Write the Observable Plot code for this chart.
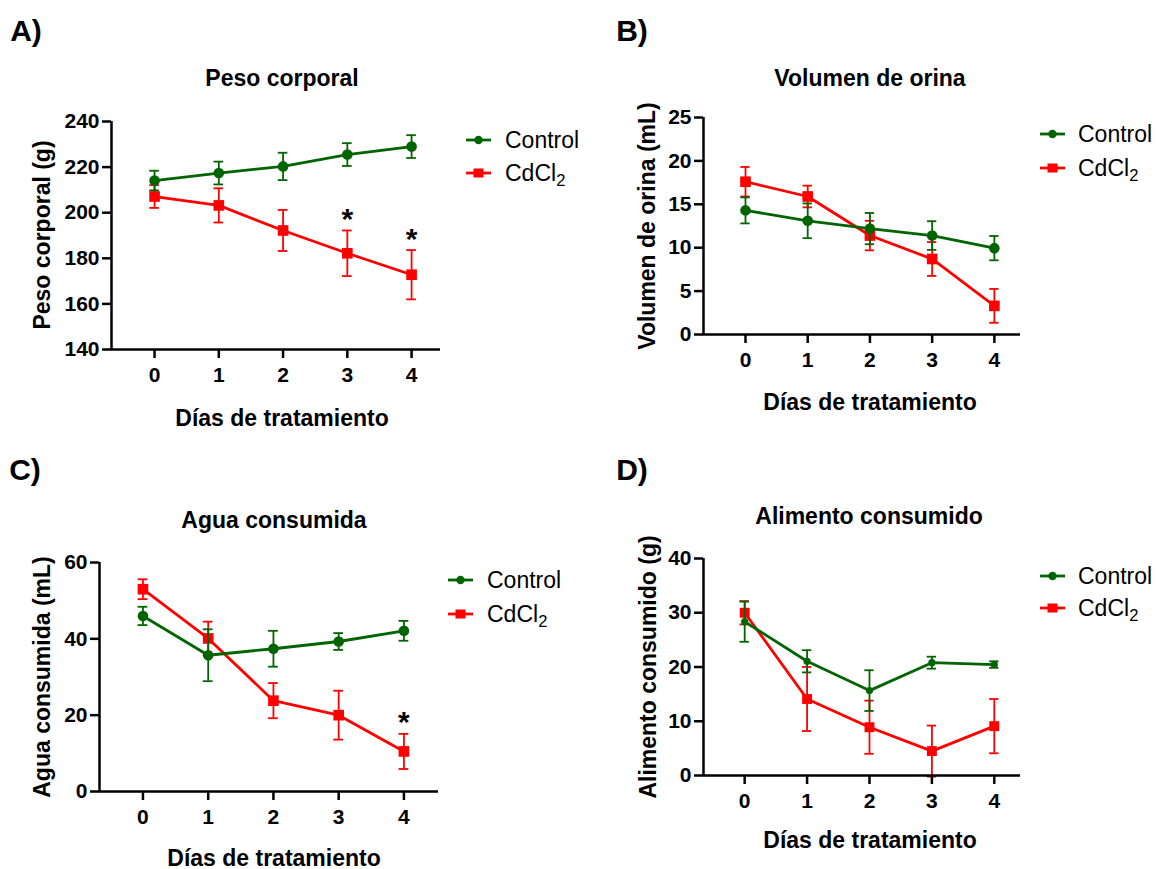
<!DOCTYPE html>
<html><head><meta charset="utf-8">
<script src="https://cdn.jsdelivr.net/npm/d3@7"></script>
<script src="https://cdn.jsdelivr.net/npm/@observablehq/plot@0.6"></script>
<style>
body{margin:0;background:#fff;}
#root{position:relative;width:1157px;height:869px;font-family:"Liberation Sans",Arial,sans-serif;color:#000;overflow:hidden;background:#fff}
.abs{position:absolute;white-space:nowrap;line-height:1}
.c{transform:translate(-50%,-50%)}
.b{font-weight:bold}
</style></head><body><div id="root"></div>
<script>
// ---- data ----
const days = [0, 1, 2, 3, 4];
const seriesNames = ["Control", "CdCl2"];

const pesoTicks = [140, 160, 180, 200, 220, 240];
const pesoControl = [214.1, 217.4, 220.3, 225.5, 229.0];
const pesoControlErr = [4.3, 5.0, 6.0, 5.0, 5.0];
const pesoCd = [207.1, 203.2, 192.2, 182.2, 172.8];
const pesoCdErr = [5.0, 7.5, 9.0, 10.0, 10.8];
const pesoSig = [3, 4];

const orinaTicks = [0, 5, 10, 15, 20, 25];
const orinaControl = [14.3, 13.1, 12.2, 11.4, 9.95];
const orinaControlErr = [1.5, 2.0, 1.8, 1.65, 1.4];
const orinaCd = [17.6, 15.9, 11.4, 8.7, 3.3];
const orinaCdErr = [1.7, 1.25, 1.7, 1.95, 1.95];
const orinaSig = [];

const aguaTicks = [0, 20, 40, 60];
const aguaControl = [46.0, 35.7, 37.4, 39.3, 42.1];
const aguaControlErr = [2.4, 6.8, 4.7, 2.2, 2.6];
const aguaCd = [53.0, 40.1, 23.8, 20.0, 10.5];
const aguaCdErr = [2.6, 4.4, 4.6, 6.4, 4.6];
const aguaSig = [4];

const alimentoTicks = [0, 10, 20, 30, 40];
const alimentoControl = [28.35, 21.05, 15.65, 20.8, 20.45];
const alimentoControlErr = [3.7, 2.05, 3.75, 1.1, 0.6];
const alimentoCd = [30.0, 14.1, 8.9, 4.5, 9.1];
const alimentoCdErr = [2.15, 5.9, 4.9, 4.7, 5.0];
const alimentoSig = [];

const GREEN = "#006400", RED = "#ff0000";
const FONT = "'Liberation Sans', Arial, sans-serif";

const panels = [
  {letter: "A)", title: "Peso corporal", ylabel: "Peso corporal (g)", xlabel: "Días de tratamiento",
   control: pesoControl, controlErr: pesoControlErr, cd: pesoCd, cdErr: pesoCdErr, sig: pesoSig, ticks: pesoTicks,
   L: {left: 111, right: 440, top: 121, bottom: 349, xDomain: [-0.67, 4.45], letterX: 26, letterY: 31,
       titleX: 282, titleY: 78, xlabX: 282, xlabY: 418, ylabX: 42, legSymX: 466, legTextX: 505, legY: 140, legDy: 33,
       circleR: 5.3, squareR: 6}},
  {letter: "B)", title: "Volumen de orina", ylabel: "Volumen de orina (mL)", xlabel: "Días de tratamiento",
   control: orinaControl, controlErr: orinaControlErr, cd: orinaCd, cdErr: orinaCdErr, sig: orinaSig, ticks: orinaTicks,
   L: {left: 703, right: 1020, top: 117, bottom: 334, xDomain: [-0.675, 4.42], letterX: 632, letterY: 31,
       titleX: 870, titleY: 78, xlabX: 870, xlabY: 402, ylabX: 647, legSymX: 1040, legTextX: 1078, legY: 134, legDy: 34,
       circleR: 5.3, squareR: 6}},
  {letter: "C)", title: "Agua consumida", ylabel: "Agua consumida (mL)", xlabel: "Días de tratamiento",
   control: aguaControl, controlErr: aguaControlErr, cd: aguaCd, cdErr: aguaCdErr, sig: aguaSig, ticks: aguaTicks,
   L: {left: 99, right: 438, top: 562, bottom: 791, xDomain: [-0.666, 4.53], letterX: 25, letterY: 470,
       titleX: 274, titleY: 520, xlabX: 274, xlabY: 858, ylabX: 42, legSymX: 448, legTextX: 487, legY: 580, legDy: 34,
       circleR: 5.3, squareR: 6}},
  {letter: "D)", title: "Alimento consumido", ylabel: "Alimento consumido (g)", xlabel: "Días de tratamiento",
   control: alimentoControl, controlErr: alimentoControlErr, cd: alimentoCd, cdErr: alimentoCdErr, sig: alimentoSig, ticks: alimentoTicks,
   L: {left: 703, right: 1020, top: 558, bottom: 775, xDomain: [-0.66, 4.42], letterX: 632, letterY: 470,
       titleX: 869, titleY: 516, xlabX: 870, xlabY: 840, ylabX: 648, legSymX: 1040, legTextX: 1078, legY: 576, legDy: 32,
       circleR: 3.6, squareR: 5.6}}
];

const root = document.getElementById("root");

function addText(html, x, y, cls, size, extra = "") {
  const d = document.createElement("div");
  d.className = "abs " + cls;
  d.style.left = x + "px";
  d.style.top = y + "px";
  d.style.fontSize = size + "px";
  d.style.cssText += extra;
  d.innerHTML = html;
  root.appendChild(d);
  return d;
}

function rows(means, errs, name) {
  return days.map((d, i) => ({day: d, mean: means[i], err: errs[i], series: name}));
}

function seriesMarks(r, color, symbol, radius) {
  const cap = 0.075;
  return [
    Plot.ruleX(r, {x: "day", y1: d => d.mean - d.err, y2: d => d.mean + d.err, stroke: color, strokeWidth: 1.8}),
    Plot.ruleY(r, {y: d => d.mean + d.err, x1: d => d.day - cap, x2: d => d.day + cap, stroke: color, strokeWidth: 1.8}),
    Plot.ruleY(r, {y: d => d.mean - d.err, x1: d => d.day - cap, x2: d => d.day + cap, stroke: color, strokeWidth: 1.8}),
    Plot.line(r, {x: "day", y: "mean", stroke: color, strokeWidth: 2.8}),
    Plot.dot(r, {x: "day", y: "mean", symbol, r: radius, fill: color, stroke: "none"})
  ];
}

for (const p of panels) {
  const L = p.L;
  const mL = 60, mT = 20, mR = 10, mB = 50;
  const width = (L.right - L.left) + mL + mR;
  const height = (L.bottom - L.top) + mT + mB;
  const yDomain = [d3.min(p.ticks), d3.max(p.ticks)];
  const ctrl = rows(p.control, p.controlErr, seriesNames[0]);
  const cd = rows(p.cd, p.cdErr, seriesNames[1]);
  const sigRows = cd.filter(d => p.sig.includes(d.day));

  const svg = Plot.plot({
    width, height, marginLeft: mL, marginTop: mT, marginRight: mR, marginBottom: mB,
    x: {domain: L.xDomain, label: null},
    y: {domain: yDomain, label: null},
    style: {fontFamily: FONT, fontSize: "21px", fontWeight: "bold", color: "#000", background: "transparent", overflow: "visible"},
    marks: [
      ...seriesMarks(cd, RED, "square", L.squareR),
      ...seriesMarks(ctrl, GREEN, "circle", L.circleR),
      Plot.text(sigRows, {x: "day", y: d => d.mean + d.err, text: () => "*", dy: -11, fontSize: 30, fontWeight: "bold", fill: "#000"}),
      Plot.ruleY([yDomain[0]], {x1: L.xDomain[0], x2: L.xDomain[1], stroke: "#000", strokeWidth: 2.5}),
      Plot.ruleX([L.xDomain[0]], {y1: yDomain[0], y2: yDomain[1], stroke: "#000", strokeWidth: 2.5}),
      Plot.axisX({ticks: days, tickSize: 9, tickPadding: 9, strokeWidth: 2.5, fontSize: 21, fontWeight: "bold", tickFormat: d => d, label: null}),
      Plot.axisY({ticks: p.ticks, tickSize: 9, tickPadding: 3, strokeWidth: 2.5, fontSize: 21, fontWeight: "bold", tickFormat: d => d, label: null})
    ]
  });
  svg.style.position = "absolute";
  svg.style.left = (L.left - mL) + "px";
  svg.style.top = (L.top - mT) + "px";
  root.appendChild(svg);

  addText(p.letter, L.letterX, L.letterY, "c b", 30);
  addText(p.title, L.titleX, L.titleY, "c b", 23);
  addText(p.xlabel, L.xlabX, L.xlabY, "c b", 23);
  addText(p.ylabel, L.ylabX, (L.top + L.bottom) / 2, "b", 23, "transform:translate(-50%,-50%) rotate(-90deg);");

  // legend
  const legendItems = [
    {name: "Control", html: "Control", color: GREEN, symbol: "circle"},
    {name: "CdCl2", html: "CdCl<span style=\"font-size:0.72em;position:relative;top:0.32em\">2</span>", color: RED, symbol: "square"}
  ];
  legendItems.forEach((it, i) => {
    const y = L.legY + i * L.legDy;
    const s = d3.create("svg").attr("width", 26).attr("height", 16)
      .style("position", "absolute").style("left", L.legSymX + "px").style("top", (y - 8) + "px");
    s.append("line").attr("x1", 0).attr("x2", 25).attr("y1", 8).attr("y2", 8).attr("stroke", it.color).attr("stroke-width", 2.8);
    if (it.symbol === "circle") s.append("circle").attr("cx", 12.5).attr("cy", 8).attr("r", 4.2).attr("fill", it.color);
    else s.append("rect").attr("x", 7.5).attr("y", 3.5).attr("width", 10).attr("height", 9).attr("fill", it.color);
    root.appendChild(s.node());
    addText(it.html, L.legTextX, y, "", 23, "transform:translateY(-50%);");
  });
}
</script></body></html>
